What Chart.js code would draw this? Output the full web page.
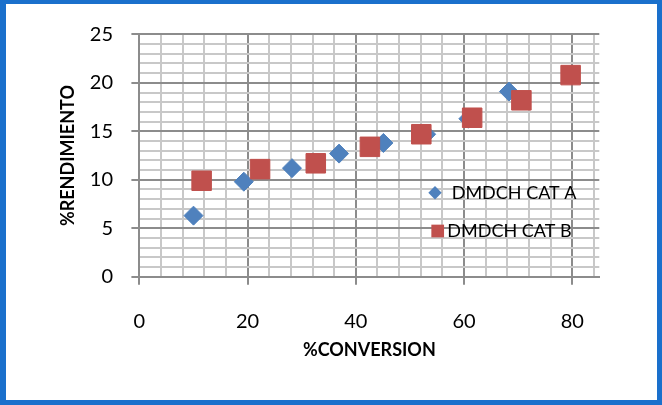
<!DOCTYPE html>
<html>
<head>
<meta charset="utf-8">
<script src="https://cdn.jsdelivr.net/npm/chart.js@4/dist/chart.umd.min.js"></script>
<style>
  html, body { margin: 0; padding: 0; background: #ffffff; }
  #frame {
    width: 662px; height: 405px; box-sizing: border-box;
    border-style: solid; border-color: #1a70cc;
    border-width: 4px 5px 5px 6px;
    background: #ffffff;
  }
  canvas { display: block; }
</style>
</head>
<body>
<div id="frame"><canvas id="chart" width="651" height="396"></canvas></div>
<script>
// Series: %CONVERSION (x) vs %RENDIMIENTO (y)
const catAConversion = [10.0, 19.3, 28.2, 36.9, 45.1, 53.0, 60.8, 68.3];
const catARendimiento = [6.3, 9.8, 11.2, 12.7, 13.8, 14.7, 16.3, 19.1];
const catBConversion = [11.5, 22.3, 32.6, 42.6, 52.1, 61.5, 70.6, 79.7];
const catBRendimiento = [9.9, 11.1, 11.7, 13.4, 14.7, 16.4, 18.2, 20.8];

const seriesNames = ['DMDCH CAT A', 'DMDCH CAT B'];

// Axis ranges and tick spacing
const xRange = [0, 85];
const xMajorStep = 20;
const xMinorStep = 4;
const yRange = [0, 25];
const yMajorStep = 5;
const yMinorStep = 1;

const BLUE = '#4f81bd';
const RED = '#c0504d';
const MAJOR_GRID = '#8c8c8c';
const MINOR_GRID = '#c8c8c8';
const FONT = 'Lato, "Open Sans", "Liberation Sans", sans-serif';

const toPoints = (xs, ys) => xs.map((x, i) => ({ x: x, y: ys[i] }));
const isMajor = (v, step) => Math.abs(v / step - Math.round(v / step)) < 1e-6;

// Legend drawn inside the plot area, to the right
const innerLegend = {
  id: 'innerLegend',
  afterDatasetsDraw(chart) {
    const ctx = chart.ctx;
    ctx.save();
    ctx.font = '18px ' + FONT;
    ctx.fillStyle = '#000000';
    ctx.textBaseline = 'alphabetic';
    ctx.textAlign = 'left';

    // diamond marker
    const ax = 429, ay = 188.7, ar = 6.7;
    ctx.beginPath();
    ctx.moveTo(ax - ar, ay);
    ctx.lineTo(ax, ay - ar);
    ctx.lineTo(ax + ar, ay);
    ctx.lineTo(ax, ay + ar);
    ctx.closePath();
    ctx.fillStyle = BLUE;
    ctx.fill();
    ctx.fillStyle = '#000000';
    ctx.fillText(seriesNames[0], 445.7, 194.6);

    // square marker
    const bx = 431.7, by = 227, bs = 12.7;
    ctx.fillStyle = RED;
    ctx.fillRect(bx - bs / 2, by - bs / 2, bs, bs);
    ctx.fillStyle = '#000000';
    ctx.fillText(seriesNames[1], 441.3, 232.5);
    ctx.restore();
  }
};

new Chart(document.getElementById('chart'), {
  type: 'scatter',
  data: {
    datasets: [
      {
        label: seriesNames[0],
        data: toPoints(catAConversion, catARendimiento),
        pointStyle: 'rectRot',
        pointRadius: 9.5,
        pointHoverRadius: 9.5,
        backgroundColor: BLUE,
        borderColor: BLUE,
        borderWidth: 1,
        order: 2
      },
      {
        label: seriesNames[1],
        data: toPoints(catBConversion, catBRendimiento),
        pointStyle: 'rect',
        pointRadius: 13.8,
        pointHoverRadius: 13.8,
        backgroundColor: RED,
        borderColor: RED,
        borderWidth: 1,
        order: 1
      }
    ]
  },
  options: {
    responsive: false,
    animation: false,
    devicePixelRatio: 1,
    layout: { padding: { left: 0, top: 29.3, right: 57.7, bottom: 0 } },
    plugins: {
      legend: { display: false },
      tooltip: { enabled: false }
    },
    scales: {
      x: {
        type: 'linear',
        min: xRange[0],
        max: xRange[1],
        afterFit(scale) { scale.height = 123.3; },
        border: { display: true, color: MAJOR_GRID, width: 2 },
        grid: {
          lineWidth: 2,
          tickLength: 8,
          color: (c) => (c.tick && c.tick.value >= xRange[1]) ? 'rgba(0,0,0,0)'
                        : (c.tick && isMajor(c.tick.value, xMajorStep) ? MAJOR_GRID : MINOR_GRID),
          tickColor: (c) => (c.tick && isMajor(c.tick.value, xMajorStep) && c.tick.value < xRange[1]) ? MAJOR_GRID : 'rgba(0,0,0,0)'
        },
        ticks: {
          stepSize: xMinorStep,
          includeBounds: false,
          autoSkip: false,
          maxRotation: 0,
          padding: 25,
          color: '#000000',
          font: { family: FONT, size: 20 },
          callback: (v) => isMajor(v, xMajorStep) ? String(v) : ''
        },
        title: {
          display: true,
          text: '%CONVERSION',
          color: '#000000',
          font: { family: FONT, size: 18, weight: 'bold' },
          padding: { top: 0, bottom: 39.2 }
        }
      },
      y: {
        type: 'linear',
        min: yRange[0],
        max: yRange[1],
        afterFit(scale) { scale.width = 133.4; },
        border: { display: true, color: MAJOR_GRID, width: 2 },
        grid: {
          lineWidth: 2,
          tickLength: 8,
          color: (c) => (c.tick && isMajor(c.tick.value, yMajorStep)) ? MAJOR_GRID : MINOR_GRID,
          tickColor: (c) => (c.tick && isMajor(c.tick.value, yMajorStep)) ? MAJOR_GRID : 'rgba(0,0,0,0)'
        },
        ticks: {
          stepSize: yMinorStep,
          autoSkip: false,
          padding: 18.4,
          color: '#000000',
          font: { family: FONT, size: 20 },
          callback: (v) => isMajor(v, yMajorStep) ? String(v) : ''
        },
        title: {
          display: true,
          text: '%RENDIMIENTO',
          color: '#000000',
          font: { family: FONT, size: 18, weight: 'bold' },
          padding: { top: 51.5, bottom: 0 }
        }
      }
    }
  },
  plugins: [innerLegend]
});
</script>
</body>
</html>
